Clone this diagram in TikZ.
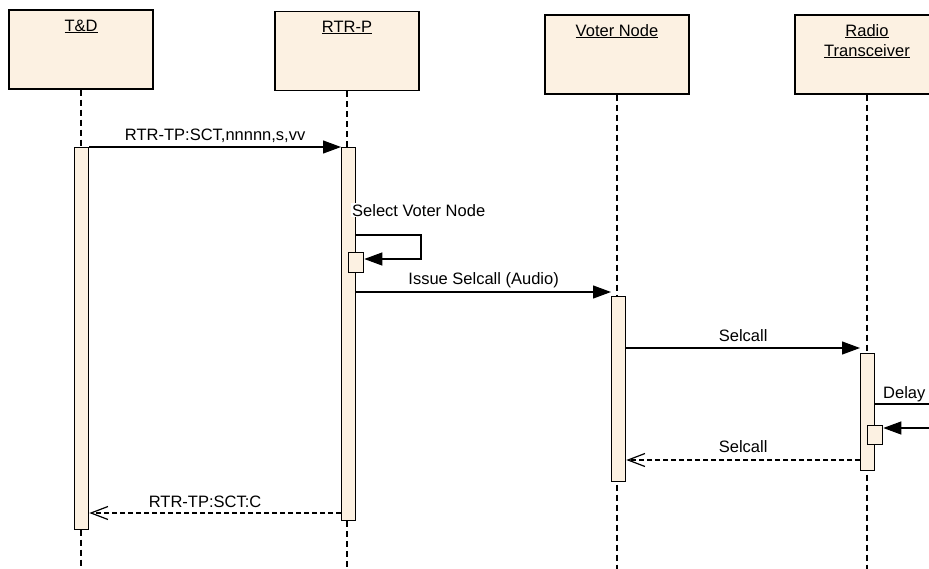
\documentclass[tikz,border=0pt]{standalone}
\usepackage{fontspec}
\setmainfont{Liberation Sans}
\usepackage{tikz}
\usetikzlibrary{arrows.meta}
\usepackage{xcolor}
\definecolor{lifefill}{RGB}{252,241,226}

\tikzset{
	head/.style={draw,fill=lifefill,line width=1.3pt,minimum width=144pt,minimum height=79pt,inner sep=0pt},
	bar/.style={draw,fill=lifefill,line width=1.3pt,minimum width=14pt,inner sep=0pt,anchor=north west},
	lifeline/.style={line width=1.2pt,dash pattern=on 6pt off 4pt},
	call/.style={line width=1.2pt,-{Triangle[length=18pt,width=13pt]}},
	reply/.style={line width=1.2pt,dash pattern=on 5pt off 3pt,-{Straight Barb[length=17pt,width=13pt]}},
	txt/.style={font=\fontsize{16.5}{20}\selectfont,inner sep=0pt}
}

\begin{document}
\begin{tikzpicture}[x=1pt,y=-1pt]
			\clip (0,0) rectangle (929,568);
			\node[head] (td) at (81,49.5) {};
			\node[head] (rtr) at (347,51) {};
			\node[head] (voter) at (617,54.5) {};
			\node[head] (radio) at (867,54.5) {};
			\node[txt,anchor=base] (tdname) at (81,31) {\underline{T\&D}};
			\node[txt,anchor=base] (rtrname) at (347,32) {\underline{RTR-P}};
			\node[txt,anchor=base] (votername) at (617,36) {\underline{Voter Node}};
			\node[txt,anchor=base] (radioname) at (867,36) {\underline{Radio}};
			\node[txt,anchor=base] (radioname2) at (867,56) {\underline{Transceiver}};
			\foreach \Head in {td,rtr,voter,radio}
				\draw[lifeline] (\Head.south) -- ++(0,480);
			% activations
			\node[bar,minimum height=382pt] (tdbar) at (74,147) {};
			\node[bar,minimum height=373pt] (rtrbar) at (341,147) {};
			\node[bar,minimum height=185pt] (voterbar) at (611,296) {};
			\node[bar,minimum height=117pt] (radiobar) at (860,353) {};
			\node[bar,minimum width=15pt,minimum height=20pt] (selbox) at (348,252) {};
			\node[bar,minimum width=15pt,minimum height=19pt] (delaybox) at (867,425) {};
			% message levels
			\coordinate (m2) at (0,292);
			\coordinate (m3) at (0,348);
			\coordinate (m5) at (0,460);
			\coordinate (m6) at (0,513);
			\coordinate (selfa) at (421,235);
			\coordinate (selfb) at (421,259);
			\coordinate (delaya) at (940,404);
			\coordinate (delayb) at (940,428);
			\draw[call] (tdbar.north east) -- (rtrbar.north west)
				node[txt,midway,anchor=base,yshift=7pt] {RTR-TP:SCT,nnnnn,s,vv};
			\draw[call] (rtrbar.east |- selfa) -- (selfa) -- (selfb) -- (selbox.east |- selfb);
			\node[txt,anchor=base west,fill=white,inner sep=1pt] (seltext) at (351,216) {Select Voter Node};
			\draw[call] (rtrbar.east |- m2) -- (voterbar.west |- m2)
				node[txt,midway,anchor=base,yshift=8pt] {Issue Selcall (Audio)};
			\draw[call] (voterbar.east |- m3) -- (radiobar.west |- m3)
				node[txt,midway,anchor=base,yshift=7pt] {Selcall};
			\draw[call] (radiobar.east |- delaya) -- (delaya) -- (delayb) -- (delaybox.east |- delayb);
			\node[txt,anchor=base west] (delaytext) at (883,398) {Delay};
			\draw[reply] (radiobar.west |- m5) -- (voterbar.east |- m5)
				node[txt,midway,anchor=base,yshift=8pt] {Selcall};
			\draw[reply] (rtrbar.west |- m6) -- (tdbar.east |- m6)
				node[txt,pos=0.54,anchor=base,yshift=6pt] {RTR-TP:SCT:C};
		\end{tikzpicture}
\end{document}
